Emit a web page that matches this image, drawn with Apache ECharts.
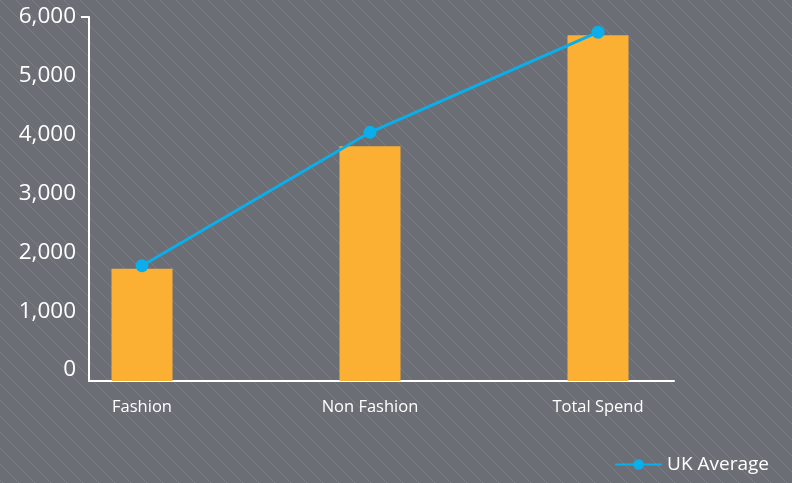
<!DOCTYPE html>
<html><head><meta charset="utf-8">
<script src="https://cdn.jsdelivr.net/npm/echarts@6/dist/echarts.min.js"></script>
<style>html,body{margin:0;padding:0;background:#6b6e75}#c{width:792px;height:483px}</style>
</head><body><div id="c"></div>
<script>
const categories = ['Fashion', 'Non Fashion', 'Total Spend'];
const spendValues = [1850, 3870, 5700];
const ukAverage = [1900, 4100, 5750];
const yTicks = [0, 1000, 2000, 3000, 4000, 5000, 6000];

// diagonal stripe background
const tile = document.createElement('canvas');
tile.width = 16; tile.height = 16;
const tc = tile.getContext('2d');
tc.fillStyle = '#6b6e75'; tc.fillRect(0, 0, 16, 16);
tc.strokeStyle = 'rgba(255,255,255,0.11)'; tc.lineWidth = 1;
tc.beginPath(); tc.moveTo(-1, -1); tc.lineTo(17, 17); tc.stroke();

const font = '"Open Sans", sans-serif';
const yMin = yTicks[0], yMax = yTicks[yTicks.length - 1], yStep = yTicks[1] - yTicks[0];

const chart = echarts.init(document.getElementById('c'));
chart.setOption({
  backgroundColor: { image: tile, repeat: 'repeat' },
  animation: false,
  grid: [
    { left: 28, right: 80, top: 17, bottom: 102 },   // data grid
    { left: 89, right: 118, top: 17, bottom: 102 },  // visible axes
    { left: 89, right: 118, top: 17, bottom: 113 }   // y labels
  ],
  xAxis: [
    { type: 'category', gridIndex: 0, data: categories, boundaryGap: true,
      axisLine: { show: false }, axisTick: { show: false },
      axisLabel: { color: '#ffffff', fontSize: 16.5, fontFamily: font, margin: 18 } },
    { type: 'value', gridIndex: 1, min: 0, max: 1, show: true,
      axisLine: { show: true, lineStyle: { color: '#ffffff', width: 2 } },
      axisTick: { show: false }, axisLabel: { show: false }, splitLine: { show: false } },
    { type: 'value', gridIndex: 2, min: 0, max: 1, show: false }
  ],
  yAxis: [
    { type: 'value', gridIndex: 0, min: yMin, max: yMax, interval: yStep, show: false },
    { type: 'value', gridIndex: 1, min: yMin, max: yMax, interval: yStep,
      axisLine: { show: true, onZero: false, lineStyle: { color: '#ffffff', width: 2 } },
      axisTick: { show: true, customValues: [yMax], length: 8, lineStyle: { color: '#ffffff', width: 2 } },
      axisLabel: { show: false }, splitLine: { show: false } },
    { type: 'value', gridIndex: 1, min: yMin, max: yMax, interval: yStep,
      axisLine: { show: false },
      axisTick: { show: true, inside: true, customValues: [yMax], length: 8, lineStyle: { color: '#ffffff', width: 2 } },
      axisLabel: { show: false }, splitLine: { show: false } },
    { type: 'value', gridIndex: 2, min: yMin, max: yMax, interval: yStep,
      axisLine: { show: false }, axisTick: { show: false }, splitLine: { show: false },
      axisLabel: { color: '#ffffff', fontSize: 22.5, fontFamily: font, margin: 13,
        formatter: v => v.toLocaleString('en-US') } }
  ],
  legend: {
    right: 18, bottom: 4, itemWidth: 47, itemHeight: 13, itemGap: 10,
    textStyle: { color: '#ffffff', fontSize: 19, fontFamily: font },
    data: ['UK Average']
  },
  series: [
    { name: 'Spend', type: 'bar', xAxisIndex: 0, yAxisIndex: 0, data: spendValues,
      barWidth: 61, itemStyle: { color: '#fbb034' } },
    { name: 'UK Average', type: 'line', xAxisIndex: 0, yAxisIndex: 0, data: ukAverage,
      symbol: 'circle', symbolSize: 13, z: 5,
      lineStyle: { color: '#0aaeea', width: 3 }, itemStyle: { color: '#0aaeea' } }
  ]
});
</script></body></html>
